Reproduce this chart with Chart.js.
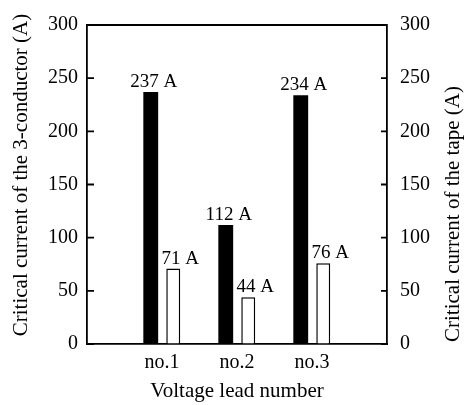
<!DOCTYPE html>
<html>
<head>
<meta charset="utf-8">
<script src="https://cdn.jsdelivr.net/npm/chart.js@4"></script>
<style>
  html, body { margin: 0; padding: 0; background: #fff; }
</style>
</head>
<body>
<canvas id="chart" width="475" height="405"></canvas>
<script>
const leads = ['no.1', 'no.2', 'no.3'];
const conductorIc = [237, 112, 234];
const tapeIc = [71, 44, 76];
const yTicks = [0, 50, 100, 150, 200, 250, 300];

const SERIF = '"Liberation Serif", "Times New Roman", serif';

// empty slot at each end so the groups sit where the figure has them
const labels = ['', ...leads, ''];
const pad = (arr) => [null, ...arr, null];

function sideTitle(ctx, text, x, y) {
  ctx.save();
  ctx.fillStyle = '#000';
  ctx.font = '21px ' + SERIF;
  ctx.textAlign = 'center';
  ctx.textBaseline = 'middle';
  ctx.translate(x, y);
  ctx.rotate(-Math.PI / 2);
  ctx.fillText(text, 0, 0);
  ctx.restore();
}

const frame = {
  id: 'frame',
  afterDraw(chart) {
    const { ctx, chartArea: a } = chart;
    const y = chart.scales.y;
    ctx.save();
    ctx.strokeStyle = '#000';
    ctx.lineWidth = 1.8;
    ctx.beginPath();
    ctx.moveTo(a.left, a.top);
    ctx.lineTo(a.right, a.top);
    // inward tick marks on both value axes
    yTicks.forEach((v) => {
      const py = y.getPixelForValue(v);
      ctx.moveTo(a.left, py);
      ctx.lineTo(a.left + 7, py);
      ctx.moveTo(a.right, py);
      ctx.lineTo(a.right - 6, py);
    });
    ctx.stroke();
    ctx.restore();

    // both side titles read bottom-to-top in the figure
    sideTitle(ctx, 'Critical current of the 3-conductor (A)', 21, 175);
    sideTitle(ctx, 'Critical current of the tape (A)', 453, 214);
  },
};

const valueLabels = {
  id: 'valueLabels',
  afterDatasetsDraw(chart) {
    const { ctx } = chart;
    ctx.save();
    ctx.fillStyle = '#000';
    ctx.font = '19px ' + SERIF;
    ctx.textAlign = 'center';
    ctx.textBaseline = 'alphabetic';
    chart.data.datasets.forEach((ds, i) => {
      const meta = chart.getDatasetMeta(i);
      const shift = i === 1 ? 7 : 3;
      meta.data.forEach((bar, j) => {
        const v = ds.data[j];
        if (v == null) return;
        ctx.fillText(v + ' A', bar.x + shift, bar.y - 5);
      });
    });
    ctx.restore();
  },
};

new Chart(document.getElementById('chart'), {
  type: 'bar',
  data: {
    labels: labels,
    datasets: [
      {
        label: '3-conductor',
        data: pad(conductorIc),
        yAxisID: 'y',
        backgroundColor: '#000',
        borderWidth: 0,
        categoryPercentage: 0.6,
        barPercentage: 0.66,
      },
      {
        label: 'tape',
        data: pad(tapeIc),
        yAxisID: 'y2',
        backgroundColor: '#fff',
        borderColor: '#000',
        borderWidth: 1.5,
        categoryPercentage: 0.6,
        barPercentage: 0.62,
      },
    ],
  },
  options: {
    responsive: false,
    animation: false,
    layout: { padding: { top: 16, left: 0, right: 0, bottom: 0 } },
    plugins: {
      legend: { display: false },
      tooltip: { enabled: false },
    },
    scales: {
      x: {
        offset: false,
        grid: { display: false, drawTicks: false },
        border: { color: '#000', width: 1.8 },
        ticks: { color: '#000', font: { family: SERIF, size: 20 }, padding: 7, autoSkip: false, maxRotation: 0 },
        title: {
          display: true,
          text: 'Voltage lead number',
          color: '#000',
          font: { family: SERIF, size: 21 },
          padding: 1,
        },
        afterFit: (s) => { s.height = 61; },
      },
      y: {
        position: 'left',
        min: 0,
        max: 300,
        afterBuildTicks: (s) => { s.ticks = yTicks.map((v) => ({ value: v })); },
        grid: { drawOnChartArea: false, drawTicks: false },
        border: { color: '#000', width: 1.8 },
        ticks: { color: '#000', font: { family: SERIF, size: 20 }, padding: 9 },
        afterFit: (s) => { s.width = 87; },
      },
      y2: {
        position: 'right',
        min: 0,
        max: 300,
        afterBuildTicks: (s) => { s.ticks = yTicks.map((v) => ({ value: v })); },
        grid: { drawOnChartArea: false, drawTicks: false },
        border: { color: '#000', width: 1.8 },
        ticks: { color: '#000', font: { family: SERIF, size: 20 }, padding: 13 },
        afterFit: (s) => { s.width = 88; },
      },
    },
  },
  plugins: [frame, valueLabels],
});
</script>
</body>
</html>
